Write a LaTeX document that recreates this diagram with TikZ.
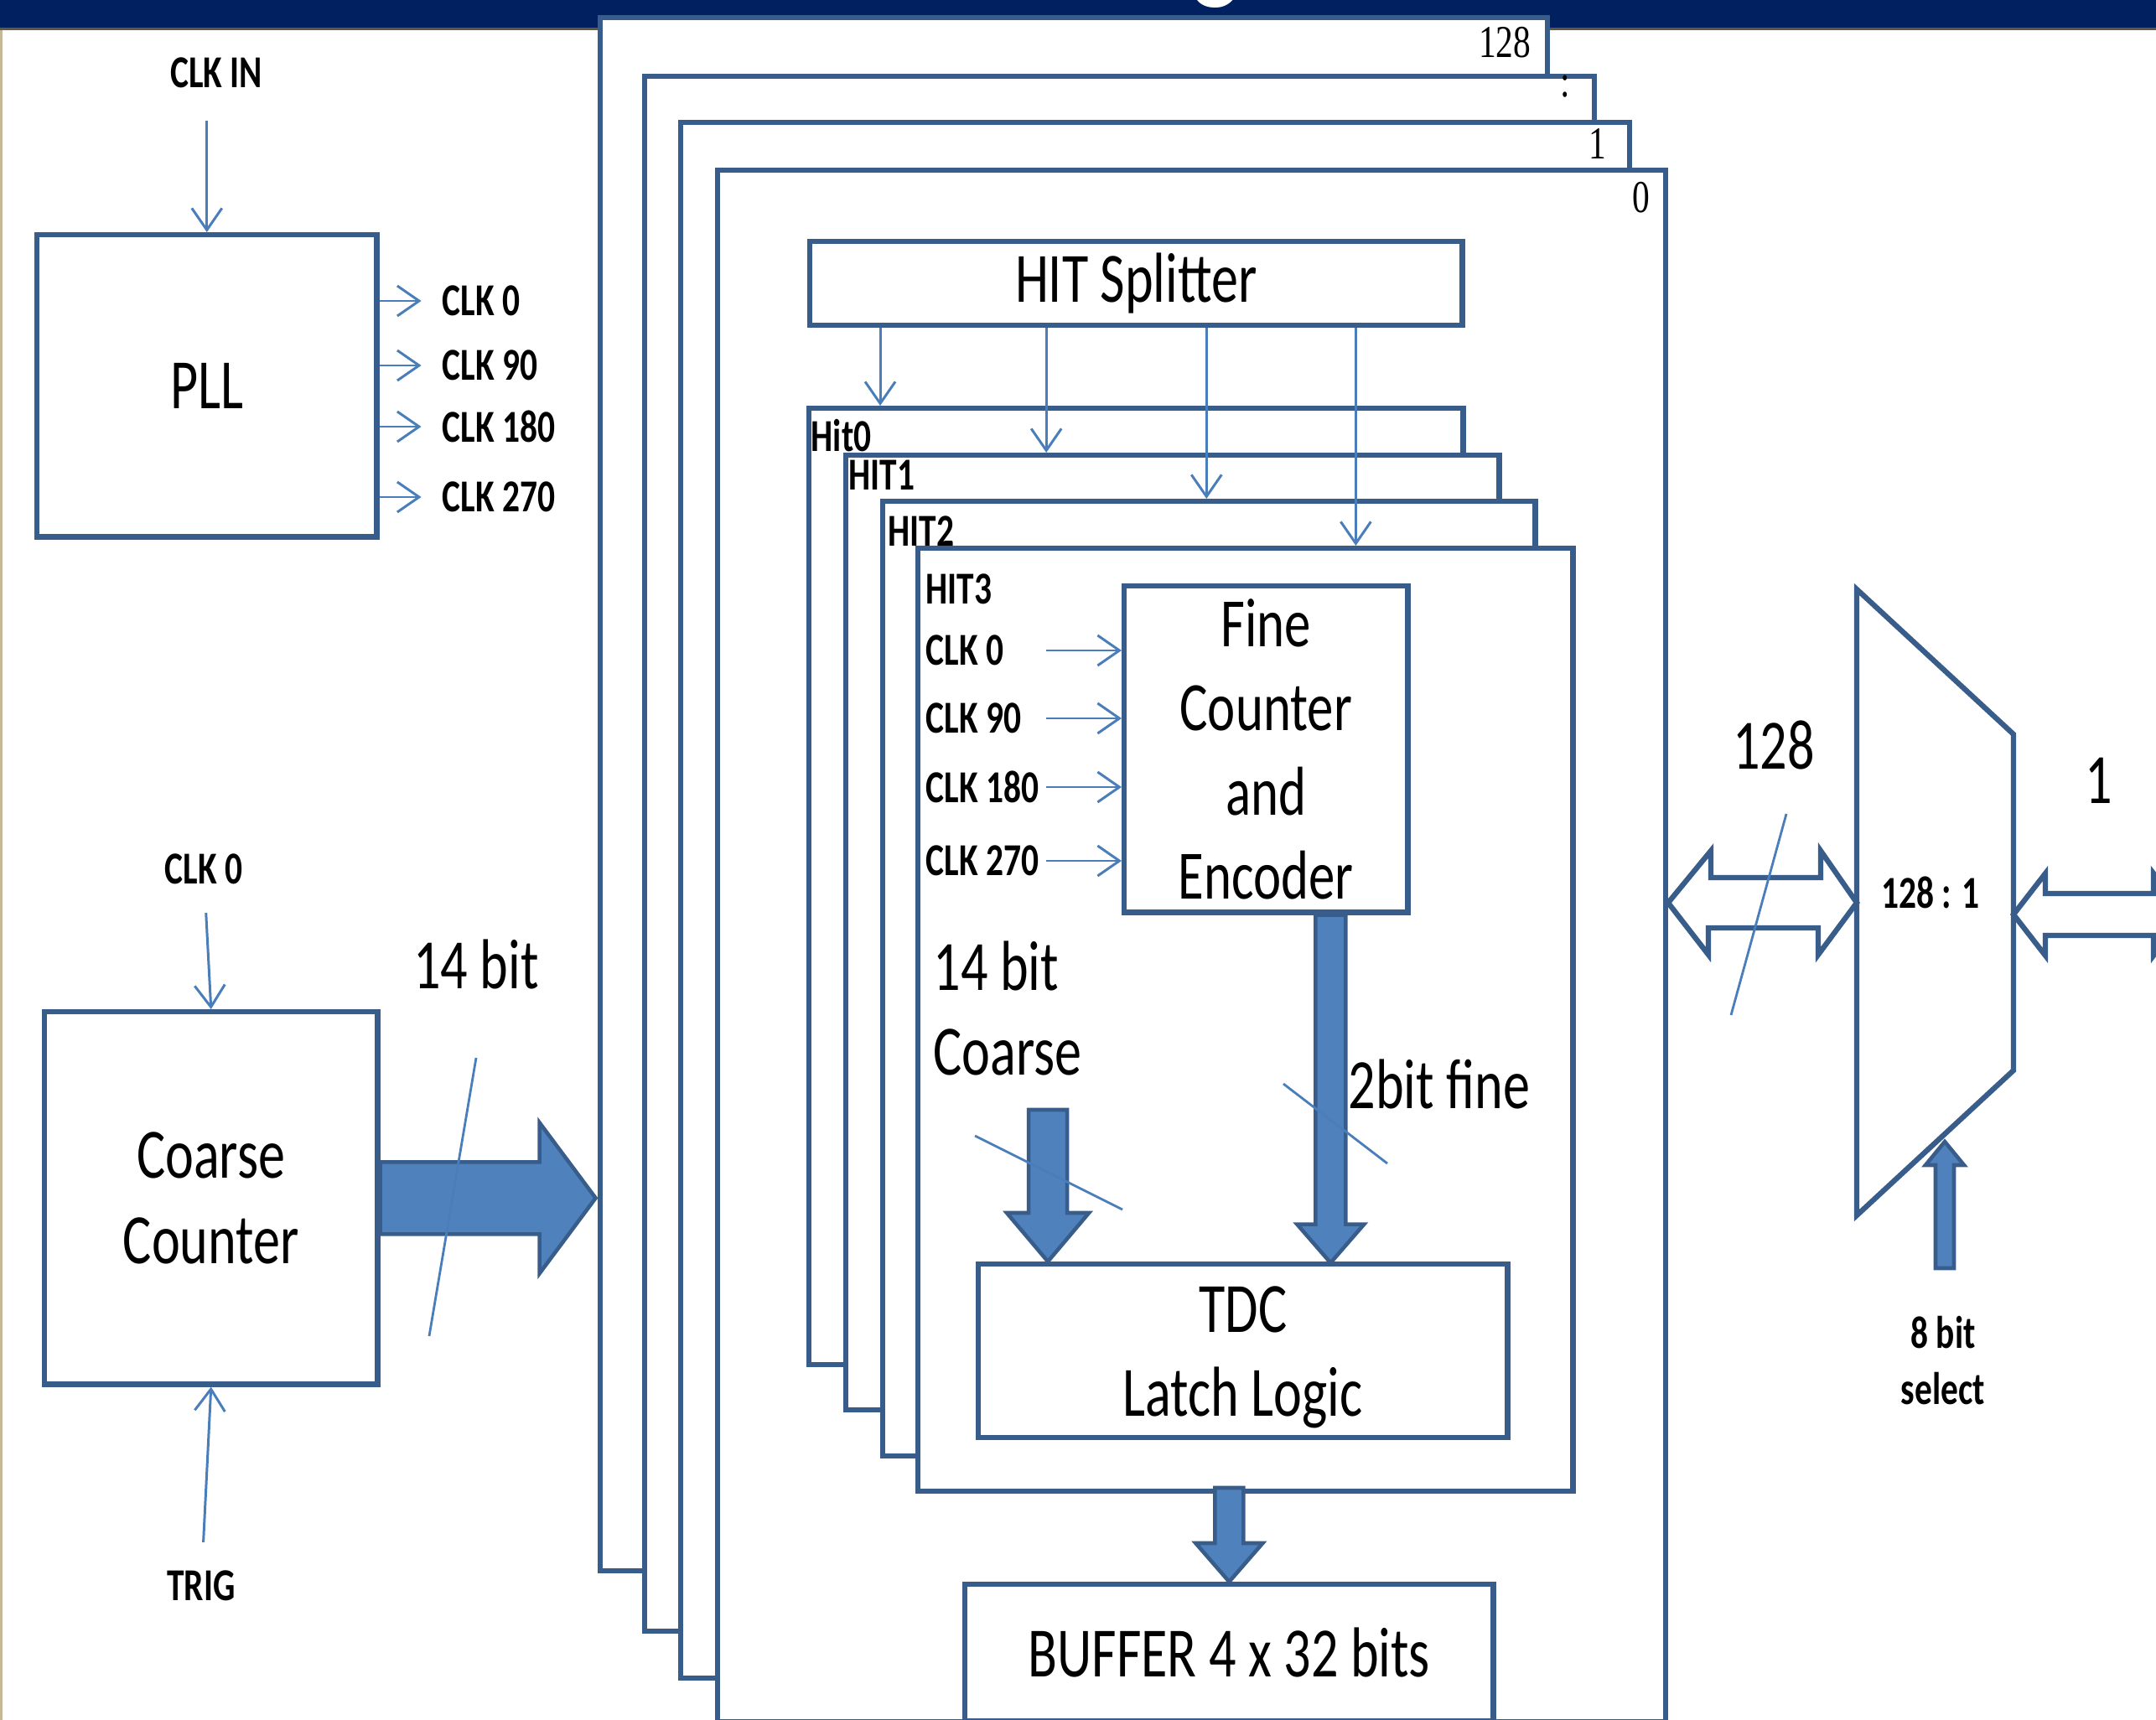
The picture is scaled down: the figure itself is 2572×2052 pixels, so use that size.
\documentclass[tikz,border=0pt]{standalone}
\usepackage{fontspec}
\setmainfont{Carlito}[FakeStretch=0.76]
\newfontfamily\numfont{Liberation Serif}[FakeStretch=0.76]
\usetikzlibrary{positioning}
\usetikzlibrary{arrows.meta}
\definecolor{cnavy}{RGB}{0,32,96}
\definecolor{crule}{RGB}{98,88,60}
\definecolor{ctan}{RGB}{196,184,150}
\definecolor{cedge}{RGB}{56,93,138}
\definecolor{cfill}{RGB}{79,129,189}
\definecolor{cwire}{RGB}{74,126,187}
\tikzset{>={Straight Barb[length=2.6mm,width=3.6mm]}}
\tikzset{blk/.style={draw=cedge, line width=1.8pt, fill=white, inner sep=0pt, anchor=north west, align=center, font=\fontsize{24}{29}\selectfont}}
\tikzset{card/.style={blk}}
\tikzset{lbl/.style={inner sep=0pt, align=center, font=\bfseries\fontsize{15.5}{19}\selectfont}}
\tikzset{txt/.style={inner sep=0pt, align=left, font=\fontsize{24}{29}\selectfont}}
\tikzset{num/.style={inner sep=0pt, font=\numfont\fontsize{15.5}{18}\selectfont}}
\tikzset{wire/.style={draw=cwire, line width=0.85pt, ->}}
\tikzset{busmark/.style={draw=cwire, line width=0.8pt}}
\tikzset{bus/.style={draw=cedge, line width=1.3pt, fill=cfill, line join=miter}}
\tikzset{hbus/.style={draw=cedge, line width=1.8pt, fill=white, line join=miter}}

\begin{document}
\begin{tikzpicture}[x=0.01cm, y=-0.01cm]
    \useasboundingbox (0,0) rectangle (2572,2052);
    \clip (0,0) rectangle (2572,2052);

    % slide header
    \fill[cnavy] (0,0) rectangle (2572,33);
    \fill[crule] (0,33) rectangle (2572,36);
    \fill[ctan] (0,36) rectangle (3,2052);
    \node[text=white, inner sep=0pt, anchor=base, font=\fontsize{48}{56}\selectfont] (ttl) at (1451,-19) {g};

    % PLL
    \node[blk, minimum width=4.05cm, minimum height=3.60cm] (pll) at (41,277) {PLL};
    \node[lbl] (clkin) at (258,87) {CLK IN};
    \node[lbl, anchor=west] (c0) at (527,359) {CLK 0};
    \node[lbl, anchor=west] (c90) at (527,436) {CLK 90};
    \node[lbl, anchor=west] (c180) at (527,509) {CLK 180};
    \node[lbl, anchor=west] (c270) at (527,593) {CLK 270};

    \draw[wire, shorten <=11pt] (clkin.south -| pll.north) -- (pll.north);
    \draw[wire] (pll.east |- c0) -- ++(50,0);
    \draw[wire] (pll.east |- c90) -- ++(50,0);
    \draw[wire] (pll.east |- c180) -- ++(50,0);
    \draw[wire] (pll.east |- c270) -- ++(50,0);

    % coarse counter
    \node[blk, minimum width=3.97cm, minimum height=4.44cm] (cc) at (50,1204) {Coarse\\Counter};
    \node[lbl] (cclk) at (243,1037) {CLK 0};
    \node[lbl] (trig) at (240,1892) {TRIG};
    \draw[wire, shorten <=9.5pt] (cclk) -- (cc.north);
    \draw[wire, shorten <=9.5pt] (trig) -- (cc.south);

    \draw[bus] (cc.east) ++(0,-43) -- ++(190,0) -- ++(0,-47) -- ++(67,90) -- ++(-67,90) -- ++(0,-47) -- ++(-190,0) -- cycle;
    \draw[busmark] (568,1262) -- (512,1594);
    \node[txt] (cbits) at (568,1151) {14 bit};

    % channel stack
    \node[card, minimum width=11.29cm, minimum height=18.52cm] (s128) at (713,18) {};
    \node[num, below left=0.14cm and 0.22cm of s128.north east] (n128) {128};
    \node[card, minimum width=11.32cm, minimum height=18.54cm] (sdots) at (766,88) {};
    \node[num, below left=0.01cm and 0.31cm of sdots.north east] (ndots) {:};
    \node[card, minimum width=11.31cm, minimum height=18.55cm] (s1) at (809,143) {};
    \node[num, below left=0.10cm and 0.30cm of s1.north east] (n1) {1};
    \node[card, minimum width=11.30cm, minimum height=18.50cm] (s0) at (853,200) {};
    \node[num, below left=0.17cm and 0.21cm of s0.north east] (n0) {0};

    \node[blk, minimum width=7.78cm, minimum height=1.00cm] (hs) at (963,285) {HIT Splitter};

    \node[card, minimum width=7.80cm, minimum height=11.40cm] (h0) at (962,484) {};
    \node[lbl, below right=0.16cm and 0.05cm of h0.north west] (l0) {Hit0};
    \node[card, minimum width=7.79cm, minimum height=11.38cm] (h1) at (1006,540) {};
    \node[lbl, below right=0.08cm and 0.06cm of h1.north west] (l1) {HIT1};
    \node[card, minimum width=7.78cm, minimum height=11.38cm] (h2) at (1050,595) {};
    \node[lbl, below right=0.20cm and 0.09cm of h2.north west] (l2) {HIT2};
    \node[card, minimum width=7.81cm, minimum height=11.24cm] (h3) at (1092,651) {};
    \node[lbl, below right=0.33cm and 0.12cm of h3.north west] (l3) {HIT3};

    \coordinate (t0) at ([xshift=0.87cm]hs.south west);
    \coordinate (t1) at ([xshift=2.85cm]hs.south west);
    \coordinate (t2) at ([xshift=4.76cm]hs.south west);
    \coordinate (t3) at ([xshift=6.54cm]hs.south west);
    \draw[wire] (t0) -- (t0 |- h0.north);
    \draw[wire] (t1) -- (t1 |- h1.north);
    \draw[wire] (t2) -- (t2 |- h2.north);
    \draw[wire] (t3) -- (t3 |- h3.north);

    % one hit channel
    \node[blk, minimum width=3.38cm, minimum height=3.89cm, font=\fontsize{23.5}{28.5}\selectfont] (fce) at (1338,696) {Fine\\Counter\\and\\Encoder};
    \node[lbl, anchor=west] (i0) at (1104,776) {CLK 0};
    \node[lbl, anchor=west] (i90) at (1104,857) {CLK 90};
    \node[lbl, anchor=west] (i180) at (1104,939) {CLK 180};
    \node[lbl, anchor=west] (i270) at (1104,1027) {CLK 270};
    \draw[wire] (i0 -| fce.west) ++(-90,0) -- ++(90,0);
    \draw[wire] (i90 -| fce.west) ++(-90,0) -- ++(90,0);
    \draw[wire] (i180 -| fce.west) ++(-90,0) -- ++(90,0);
    \draw[wire] (i270 -| fce.west) ++(-90,0) -- ++(90,0);

    \node[blk, minimum width=6.31cm, minimum height=2.07cm, text depth=0pt, font=\fontsize{24}{28.5}\selectfont] (tdc) at (1164,1505) {TDC\\Latch Logic};

    \draw[bus] ([xshift=0.86cm]tdc.north west) -- ++(-49,-58) -- ++(26,0) -- ++(0,-123) -- ++(46,0) -- ++(0,123) -- ++(26,0) -- cycle;
    \draw[bus] ([xshift=0.59cm]fce.south) -- ++(0,369) -- ++(-22,0) -- ++(40,46) -- ++(40,-46) -- ++(-22,0) -- ++(0,-369) -- cycle;
    \draw[busmark] (1163,1355) -- (1339,1443);
    \draw[busmark] (1531,1293) -- (1655,1388);
    \node[txt, anchor=west] (cwords) at (1113,1203) {14 bit\\Coarse};
    \node[txt, anchor=west] (fwords) at (1608,1293) {2bit fine};

    % buffer
    \node[blk, minimum width=6.30cm, minimum height=1.63cm] (buf) at (1148,1887) {BUFFER 4 x 32 bits};
    \draw[bus] (buf.north) -- ++(-40,-46) -- ++(23,0) -- ++(0,-66) -- ++(34,0) -- ++(0,66) -- ++(23,0) -- cycle;

    % output multiplexer
    \coordinate (mtl) at (2215,703);
    \coordinate (mtr) at (2402,876);
    \coordinate (mbr) at (2402,1277);
    \coordinate (mbl) at (2215,1450);
    \coordinate (mxl) at (2215,1077);
    \coordinate (mxr) at (2402,1091);
    \coordinate (sel) at (2320,1362);

    \draw[hbus] (s0.east |- mxl) -- ++(51,-62) -- ++(0,32) -- ++(131,0) -- ++(0,-32) -- (mxl) -- ++(-46,62) -- ++(0,-32) -- ++(-131,0) -- ++(0,32) -- cycle;
    \draw[hbus] (mxr) -- ++(38,-49) -- ++(0,24) -- ++(129,0) -- ++(0,-24) -- ++(38,49) -- ++(-38,49) -- ++(0,-24) -- ++(-129,0) -- ++(0,24) -- cycle;
    \draw[draw=cedge, line width=1.8pt, line join=miter] (mtl) -- (mtr) -- (mbr) -- (mbl) -- cycle;
    \node[lbl] (mux) at (2303,1065) {128 : 1};

    \draw[busmark] (2131,971) -- (2065,1211);
    \node[txt] (wide) at (2116,889) {128};
    \node[txt] (narrow) at (2504,931) {1};

    \draw[bus] (sel) -- ++(23,28) -- ++(-12,0) -- ++(0,123) -- ++(-22,0) -- ++(0,-123) -- ++(-12,0) -- cycle;
    \node[lbl] (selbl) at (2318,1623) {8 bit\\select};
\end{tikzpicture}
\end{document}
